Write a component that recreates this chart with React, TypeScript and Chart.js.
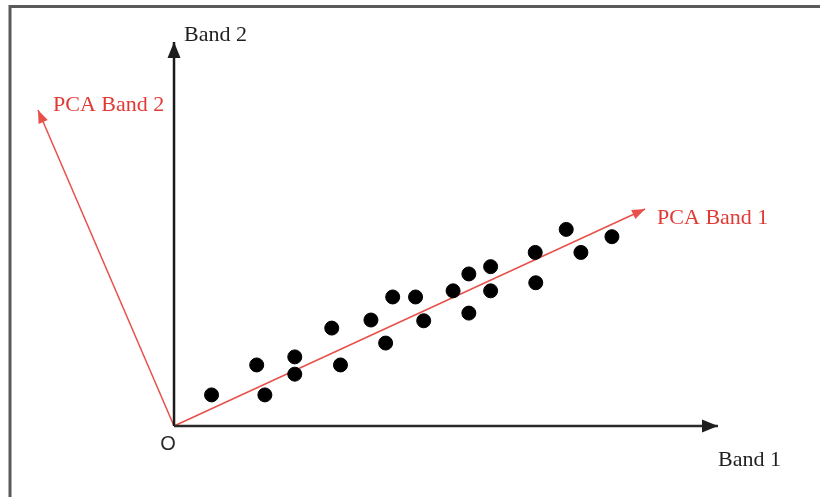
import React, { useEffect, useRef } from "react";
import { Chart, registerables } from "chart.js";

Chart.register(...registerables);

// Scatter samples (Band 1, Band 2)
const band1Values = [0.69, 1.52, 1.67, 2.22, 2.22, 2.9, 3.06, 3.62, 3.89, 4.02, 4.44, 4.59, 5.13, 5.42, 5.42, 5.82, 5.82, 6.64, 6.65, 7.21, 7.48, 8.05];
const band2Values = [0.81, 1.59, 0.81, 1.8, 1.35, 2.55, 1.59, 2.76, 2.16, 3.36, 3.36, 2.74, 3.52, 3.96, 2.94, 4.15, 3.52, 4.52, 3.73, 5.12, 4.52, 4.93];

// Axes and principal components (end points, from origin)
const origin = { x: 0, y: 0 };
const band1AxisEnd = { x: 10, y: 0 };
const band2AxisEnd = { x: 0, y: 10 };
const pca1End = { x: 8.66, y: 5.65 };
const pca2End = { x: -2.5, y: 8.23 };

// Labels
const axisLabels = ["Band 1", "Band 2"];
const pcaLabels = ["PCA Band 1", "PCA Band 2"];
const originLabel = "O";

const X_MIN = -3.199;
const X_MAX = 11.875;
const Y_MIN = -1.849;
const Y_MAX = 11.094;

const BLACK = "#1e1e1e";
const RED = "#e8504a";
const RED_TEXT = "#e03a36";

type LabelSpec = { ds: number; text: string; dx: number; dy: number; color: string; font: string; align: CanvasTextAlign };

const decorPlugin = {
  id: "decor",
  beforeDraw(chart: any) {
    const ctx = chart.ctx;
    ctx.save();
    ctx.fillStyle = "#ffffff";
    ctx.fillRect(0, 0, chart.width, chart.height);
    ctx.strokeStyle = "#5a5a5a";
    ctx.lineWidth = 3;
    ctx.beginPath();
    ctx.moveTo(10, chart.height + 5);
    ctx.lineTo(10, 6.5);
    ctx.lineTo(chart.width + 5, 6.5);
    ctx.stroke();
    ctx.restore();
  },
  afterDatasetsDraw(chart: any) {
    const ctx = chart.ctx;
    const heads = [
      { ds: 1, len: 16, half: 6.5, color: BLACK },
      { ds: 2, len: 16, half: 6.5, color: BLACK },
      { ds: 3, len: 13, half: 5, color: RED },
      { ds: 4, len: 13, half: 5, color: RED },
    ];
    ctx.save();
    for (const h of heads) {
      const pts = chart.getDatasetMeta(h.ds).data;
      const a = pts[0];
      const b = pts[pts.length - 1];
      const ang = Math.atan2(b.y - a.y, b.x - a.x);
      const c = Math.cos(ang);
      const s = Math.sin(ang);
      const bx = b.x - c * h.len;
      const by = b.y - s * h.len;
      ctx.fillStyle = h.color;
      ctx.beginPath();
      ctx.moveTo(b.x, b.y);
      ctx.lineTo(bx - s * h.half, by + c * h.half);
      ctx.lineTo(bx + s * h.half, by - c * h.half);
      ctx.closePath();
      ctx.fill();
    }
    const serif = "22px 'Liberation Serif', 'Times New Roman', serif";
    const labels: LabelSpec[] = [
      { ds: 1, text: axisLabels[0], dx: 0, dy: 34, color: BLACK, font: serif, align: "left" },
      { ds: 2, text: axisLabels[1], dx: 10, dy: -7, color: BLACK, font: serif, align: "left" },
      { ds: 3, text: pcaLabels[0], dx: 12, dy: 9, color: RED_TEXT, font: serif, align: "left" },
      { ds: 4, text: pcaLabels[1], dx: 15, dy: -5, color: RED_TEXT, font: serif, align: "left" },
    ];
    ctx.textBaseline = "middle";
    for (const l of labels) {
      const pts = chart.getDatasetMeta(l.ds).data;
      const b = pts[pts.length - 1];
      ctx.font = l.font;
      ctx.fillStyle = l.color;
      ctx.textAlign = l.align;
      ctx.fillText(l.text, b.x + l.dx, b.y + l.dy);
    }
    const o = chart.getDatasetMeta(1).data[0];
    ctx.font = "20px 'Liberation Sans', Arial, sans-serif";
    ctx.fillStyle = "#2a2a2a";
    ctx.textAlign = "center";
    ctx.fillText(originLabel, o.x - 6, o.y + 18);
    ctx.restore();
  },
};

export default function App() {
  const ref = useRef<HTMLCanvasElement | null>(null);
  useEffect(() => {
    document.body.style.margin = "0";
    if (!ref.current) return;
    const points = band1Values.map((x, i) => ({ x, y: band2Values[i] }));
    const lineDs = (end: { x: number; y: number }, color: string, width: number) => ({
      data: [origin, end],
      showLine: true,
      borderColor: color,
      borderWidth: width,
      pointRadius: 0,
      pointHoverRadius: 0,
      order: 1,
    });
    const chart = new Chart(ref.current, {
      type: "scatter",
      data: {
        datasets: [
          {
            data: points,
            backgroundColor: "#000",
            borderColor: "#000",
            pointRadius: 7,
            pointHoverRadius: 7,
            order: 0,
          } as any,
          lineDs(band1AxisEnd, "#2a2a2a", 2.5),
          lineDs(band2AxisEnd, "#1a1a1a", 2.5),
          lineDs(pca1End, RED, 1.5),
          lineDs(pca2End, RED, 1.5),
        ],
      },
      options: {
        animation: false,
        responsive: true,
        maintainAspectRatio: false,
        layout: { padding: 0, autoPadding: false },
        plugins: { legend: { display: false }, tooltip: { enabled: false } },
        scales: {
          x: { type: "linear", min: X_MIN, max: X_MAX, display: false },
          y: { type: "linear", min: Y_MIN, max: Y_MAX, display: false },
        },
      },
      plugins: [decorPlugin],
    });
    return () => chart.destroy();
  }, []);
  return (
    <div style={{ position: "relative", width: 820, height: 497 }}>
      <canvas ref={ref} />
    </div>
  );
}
